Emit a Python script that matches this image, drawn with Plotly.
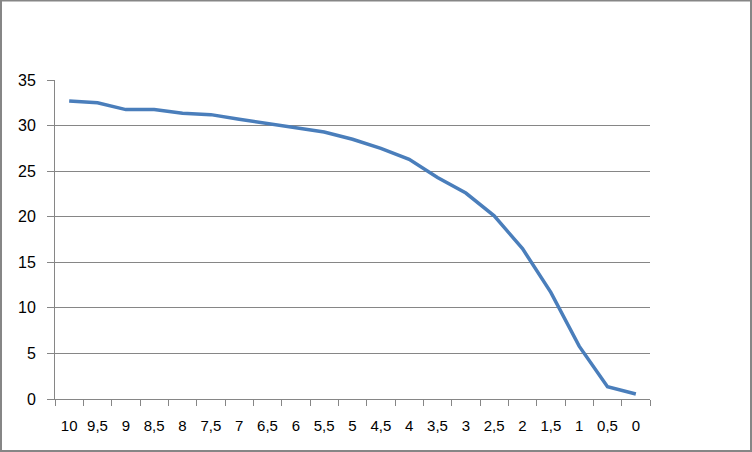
import plotly.graph_objects as go

# Datos
categorias = ["10", "9,5", "9", "8,5", "8", "7,5", "7", "6,5", "6", "5,5", "5",
              "4,5", "4", "3,5", "3", "2,5", "2", "1,5", "1", "0,5", "0"]
valores = [32.7, 32.5, 31.75, 31.75, 31.35, 31.2, 30.7, 30.25, 29.8, 29.3, 28.5,
           27.5, 26.3, 24.3, 22.6, 20.1, 16.5, 11.7, 5.8, 1.35, 0.55]
y_ticks = [0, 5, 10, 15, 20, 25, 30, 35]

fig = go.Figure()
fig.add_trace(go.Scatter(
    x=categorias,
    y=valores,
    mode='lines',
    line=dict(color='#4a7ebb', width=3.5),
    showlegend=False
))

fig.update_layout(
    width=752,
    height=452,
    margin=dict(l=55, r=102, t=80, b=53),
    plot_bgcolor='white',
    paper_bgcolor='white',
    font=dict(family='Liberation Sans, sans-serif', size=16, color='black'),
)

fig.update_xaxes(
    type='category',
    automargin=False,
    showgrid=False,
    showline=True,
    linecolor='#868686',
    linewidth=1,
    ticks='outside',
    tickson='boundaries',
    ticklen=6,
    tickcolor='#868686',
    tickangle=0,
    tickfont=dict(size=15),
    ticklabelstandoff=13,
    range=[-0.5, len(categorias) - 0.5],
)

fig.update_yaxes(
    range=[0, 35],
    automargin=False,
    tickvals=y_ticks,
    showgrid=True,
    gridcolor='#868686',
    gridwidth=1,
    showline=True,
    linecolor='#868686',
    linewidth=1,
    ticks='outside',
    ticklen=7,
    tickcolor='#868686',
    zeroline=False,
    tickfont=dict(size=16),
    ticklabelstandoff=8,
)

# Marco del grafico
fig.add_shape(type='rect', xref='paper', yref='paper',
              x0=-54 / 595, x1=1 + 101 / 595, y0=-52 / 319, y1=1 + 79.5 / 319,
              line=dict(color='#868686', width=2))

# sin margen del body para que el grafico quede en la esquina
fig.write_html("out.html", config={'displayModeBar': False},
               post_script="document.body.style.margin='0';")
